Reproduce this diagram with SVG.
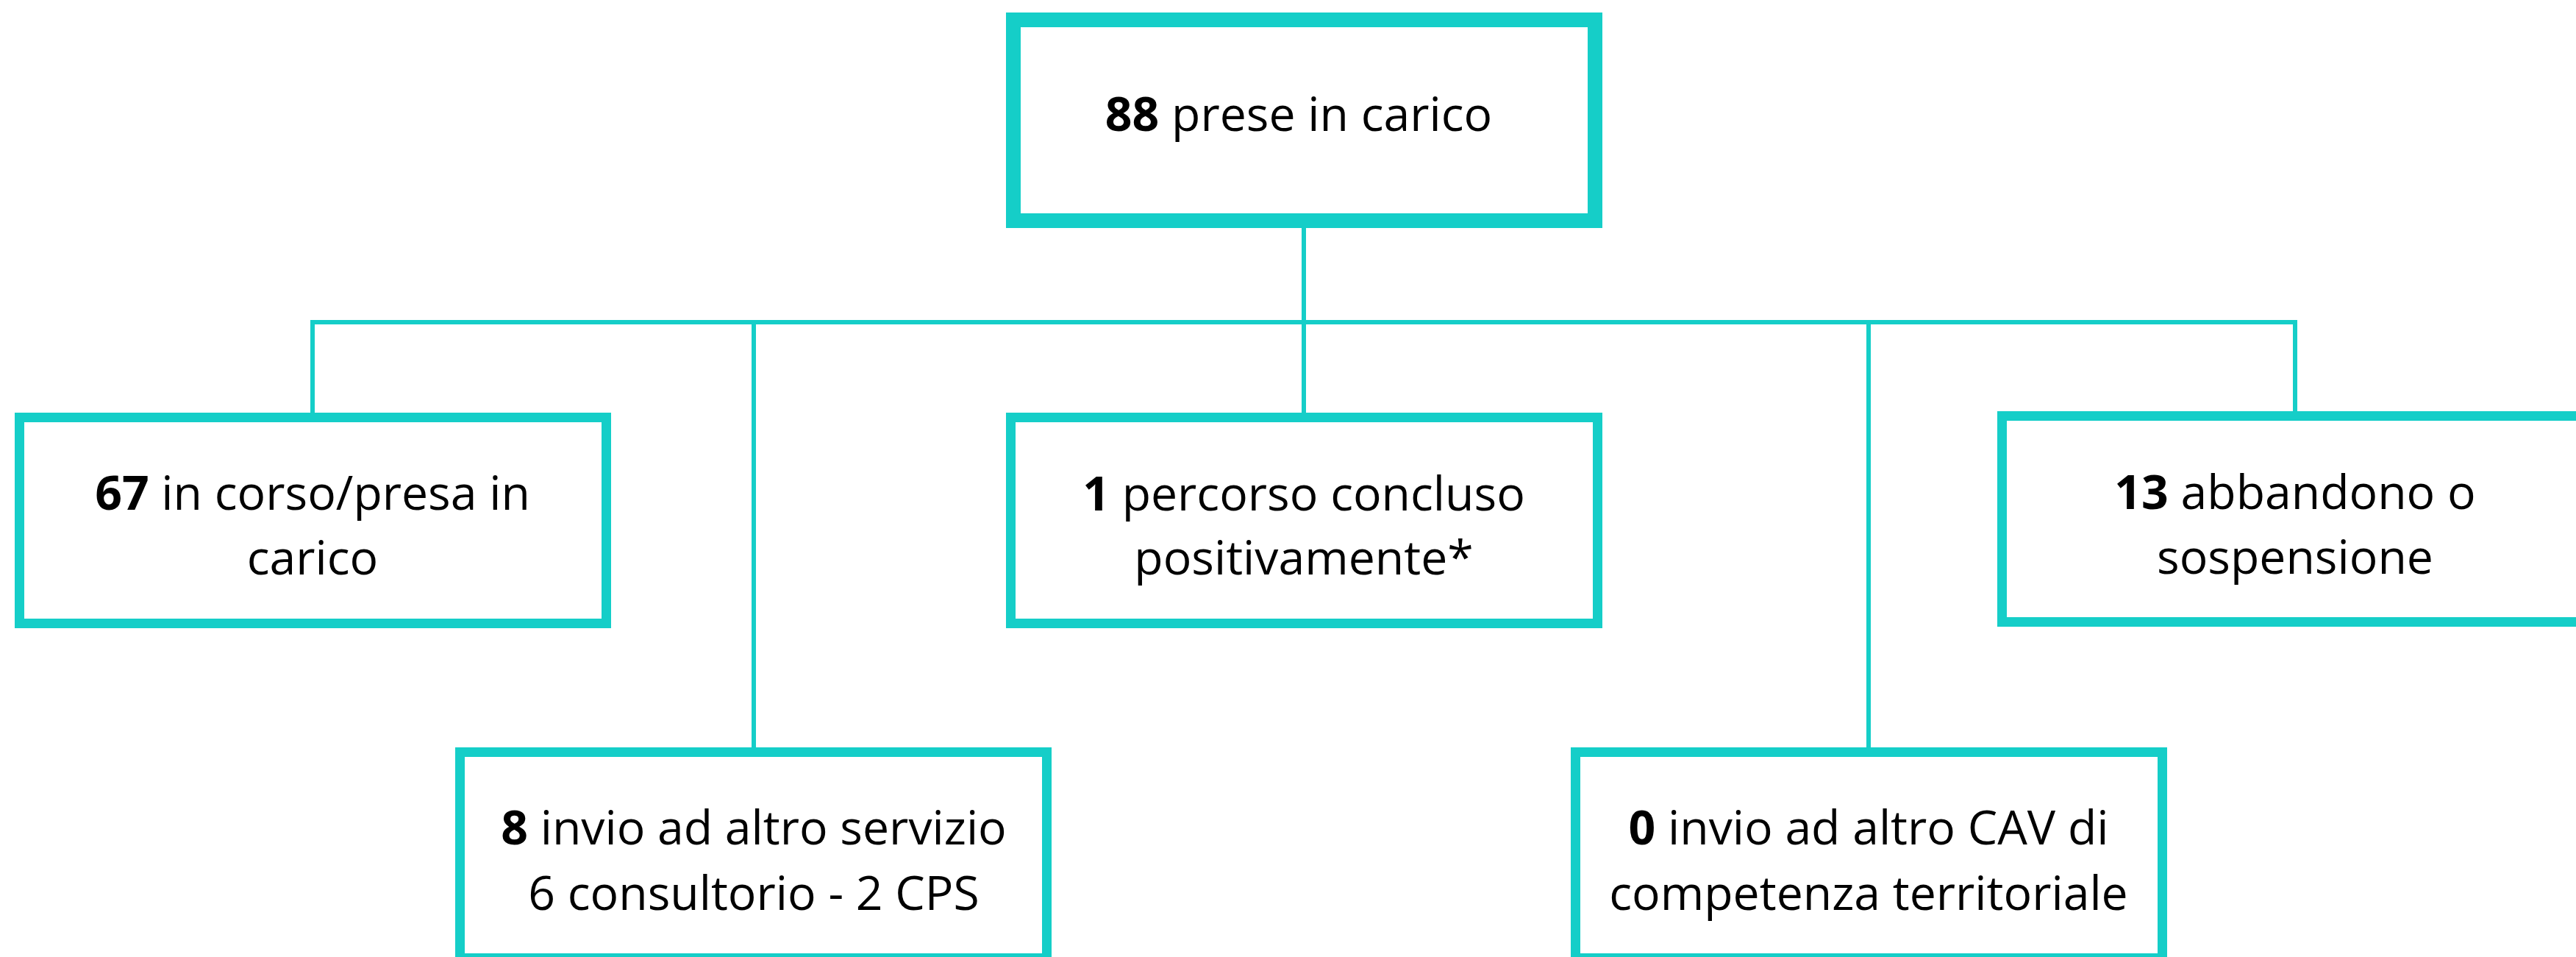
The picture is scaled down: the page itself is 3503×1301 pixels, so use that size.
<svg xmlns="http://www.w3.org/2000/svg" width="3503" height="1301" viewBox="0 0 3503 1301">
<style>
.box{fill:#ffffff;stroke:#15CEC8;stroke-width:13}
.root{fill:#ffffff;stroke:#15CEC8;stroke-width:20}
.conn{fill:none;stroke:#15CEC8;stroke-width:6}
.t{font-family:"Open Sans","Noto Sans","Liberation Sans",sans-serif;font-size:64.3px;fill:#000000;text-anchor:middle}
.b{font-weight:bold}
</style>
<rect x="0" y="0" width="3503" height="1301" fill="#ffffff"/>
<g id="connectors">
<line class="conn" x1="1773" y1="310" x2="1773" y2="561"/>
<line class="conn" x1="422" y1="438" x2="3124" y2="438"/>
<line class="conn" x1="425" y1="435" x2="425" y2="561"/>
<line class="conn" x1="3121" y1="435" x2="3121" y2="559"/>
<line class="conn" x1="1025" y1="438" x2="1025" y2="1016"/>
<line class="conn" x1="2541" y1="438" x2="2541" y2="1016"/>
</g>
<g id="node-root">
<rect class="root" x="1378" y="27" width="791" height="273"/>
<text class="t" x="1766" y="178"><tspan class="b">88</tspan> prese in carico</text>
</g>
<g id="node-in-corso">
<rect class="box" x="26.5" y="567.5" width="798" height="280"/>
<text class="t" x="425" y="693"><tspan class="b">67</tspan> in corso/presa in</text>
<text class="t" x="425" y="781">carico</text>
</g>
<g id="node-concluso">
<rect class="box" x="1374.5" y="567.5" width="798" height="280"/>
<text class="t" x="1773" y="694"><tspan class="b">1</tspan> percorso concluso</text>
<text class="t" x="1773" y="781">positivamente*</text>
</g>
<g id="node-abbandono">
<rect class="box" x="2722.5" y="565.5" width="798" height="280"/>
<text class="t" x="3121" y="692"><tspan class="b">13</tspan> abbandono o</text>
<text class="t" x="3121" y="780">sospensione</text>
</g>
<g id="node-invio-servizio">
<rect class="box" x="625.5" y="1022.5" width="798" height="280"/>
<text class="t" x="1025" y="1148"><tspan class="b">8</tspan> invio ad altro servizio</text>
<text class="t" x="1025" y="1237">6 consultorio - 2 CPS</text>
</g>
<g id="node-invio-cav">
<rect class="box" x="2142.5" y="1022.5" width="798" height="280"/>
<text class="t" x="2541" y="1148"><tspan class="b">0</tspan> invio ad altro CAV di</text>
<text class="t" x="2541" y="1237">competenza territoriale</text>
</g>
</svg>
